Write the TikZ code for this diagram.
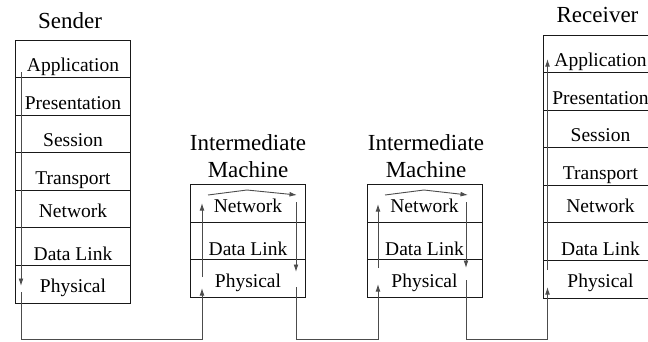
\documentclass[tikz,border=0pt]{standalone}
\usepackage{fontspec}
\setmainfont{Liberation Serif}
\usetikzlibrary{arrows.meta}
\begin{document}
\begin{tikzpicture}[x=1pt,y=-1pt,
  lyr/.style={draw=black!90, line width=0.9pt, minimum width=115pt, minimum height=37.57pt,
    inner sep=0pt, text depth=0pt, text height=#1, font=\fontspec{Liberation Serif}\fontsize{19.5}{22}\selectfont},
  lyr/.default=26pt,
  ilyr/.style={lyr=#1, minimum height=37.5pt},
  title/.style={inner sep=0pt, font=\fontspec{Liberation Serif}\fontsize{23}{27}\selectfont, align=center},
  conn/.style={draw=black!70, line width=0.9pt},
  arr/.style={conn, -{Latex[length=7.5pt,width=4.8pt]}}]
\useasboundingbox (0,0) rectangle (648,341);
% titles
\node[title, anchor=base] (tS) at (70,28) {Sender};
\node[title, anchor=base] (tR) at (597.5,22) {Receiver};
\node[title, anchor=north] (tI1) at (248,134.5) {Intermediate\\Machine};
\node[title, anchor=north] (tI2) at (426,134.5) {Intermediate\\Machine};
% sender
\node[lyr] (s1) at (73,58.8) {Application};
\node[lyr] (s2) at (73,96.4) {Presentation};
\node[lyr] (s3) at (73,133.9) {Session};
\node[lyr=25pt] (s4) at (73,171.5) {Transport};
\node[lyr=16pt] (s5) at (73,209.1) {Network};
\node[lyr=26.8pt] (s6) at (73,246.6) {Data Link};
\node[lyr=16pt] (s7) at (73,284.2) {Physical};
% intermediate 1
\node[ilyr=18pt] (a1) at (248,203.25) {Network};
\node[ilyr=29pt] (a2) at (248,240.75) {Data Link};
\node[ilyr=17.6pt] (a3) at (248,278.25) {Physical};
% intermediate 2
\node[ilyr=18pt] (b1) at (424.5,203.25) {Network};
\node[ilyr=29pt] (b2) at (424.5,240.75) {Data Link};
\node[ilyr=17.6pt] (b3) at (424.5,278.25) {Physical};
% receiver
\node[lyr] (r1) at (600.5,53.8) {Application};
\node[lyr] (r2) at (600.5,91.4) {Presentation};
\node[lyr] (r3) at (600.5,128.9) {Session};
\node[lyr=25pt] (r4) at (600.5,166.5) {Transport};
\node[lyr=16pt] (r5) at (600.5,204.1) {Network};
\node[lyr=26.8pt] (r6) at (600.5,241.6) {Data Link};
\node[lyr=16pt] (r7) at (600.5,279.2) {Physical};
% connector points
\coordinate (bot) at (0,339.5);
\coordinate (sA) at (21,72);
\coordinate (sB) at (21,286);
\coordinate (sC) at (21,292);
\coordinate (p1) at (202,288);
\coordinate (p2) at (202,277);
\coordinate (p3) at (202,203);
\coordinate (t1a) at (208,195);
\coordinate (t1b) at (247,190);
\coordinate (t1c) at (297,195);
\coordinate (q1) at (296,202);
\coordinate (q2) at (296,272);
\coordinate (q3) at (296,287);
\coordinate (u1) at (378,284);
\coordinate (u2) at (378,268);
\coordinate (u3) at (378,204);
\coordinate (t2a) at (385,195);
\coordinate (t2b) at (424,190);
\coordinate (t2c) at (468,195);
\coordinate (v1) at (466,202);
\coordinate (v2) at (466,268);
\coordinate (v3) at (466,280);
\coordinate (w1) at (547.5,287);
\coordinate (w2) at (547.5,270);
\coordinate (w3) at (547.5,59);
% connectors
\draw[arr] (sA) -- (sB);
\draw[arr] (sC) -- (sC |- bot) -| (p1);
\draw[arr] (p2) -- (p3);
\draw[arr] (t1a) -- (t1b) -- (t1c);
\draw[arr] (q1) -- (q2);
\draw[arr] (q3) -- (q3 |- bot) -| (u1);
\draw[arr] (u2) -- (u3);
\draw[arr] (t2a) -- (t2b) -- (t2c);
\draw[arr] (v1) -- (v2);
\draw[arr] (v3) -- (v3 |- bot) -| (w1);
\draw[arr] (w2) -- (w3);
\end{tikzpicture}
\end{document}
